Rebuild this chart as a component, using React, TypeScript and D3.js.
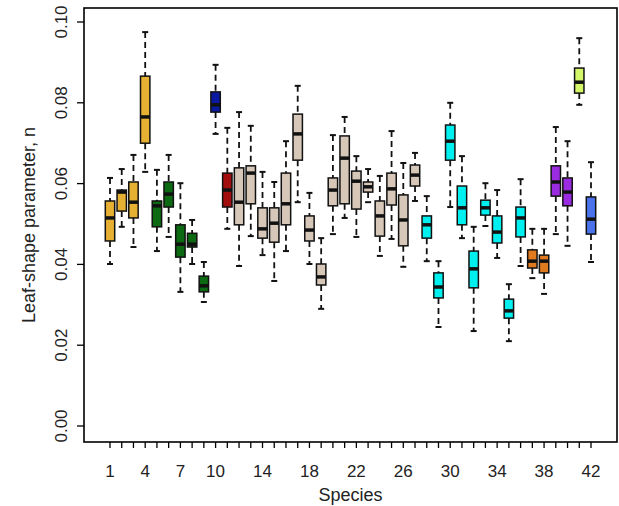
import React from "react";
import * as d3 from "d3";

const species = d3.range(1, 43);
const whiskerHigh = [0.0614,0.0636,0.0671,0.0975,0.0634,0.0671,0.0601,0.0510,0.0406,0.0894,0.0738,0.0777,0.0743,0.0629,0.0604,0.0705,0.0842,0.0577,0.0465,0.0720,0.0765,0.0668,0.0636,0.0619,0.0730,0.0651,0.0676,0.0569,0.0408,0.0800,0.0668,0.0493,0.0601,0.0584,0.0351,0.0611,0.0488,0.0488,0.0740,0.0705,0.0960,0.0653];
const q3 = [0.0557,0.0584,0.0604,0.0866,0.0557,0.0604,0.0498,0.0477,0.0371,0.0827,0.0626,0.0639,0.0644,0.0540,0.0540,0.0626,0.0772,0.0520,0.0401,0.0614,0.0718,0.0631,0.0604,0.0557,0.0626,0.0572,0.0646,0.0520,0.0379,0.0745,0.0594,0.0433,0.0559,0.0520,0.0314,0.0542,0.0436,0.0423,0.0644,0.0614,0.0886,0.0567];
const median = [0.0515,0.0579,0.0554,0.0765,0.0545,0.0574,0.0450,0.0450,0.0347,0.0795,0.0584,0.0554,0.0626,0.0488,0.0502,0.0550,0.0723,0.0485,0.0369,0.0584,0.0663,0.0606,0.0592,0.0520,0.0587,0.0510,0.0621,0.0498,0.0344,0.0705,0.0540,0.0389,0.0540,0.0480,0.0285,0.0515,0.0408,0.0408,0.0604,0.0579,0.0851,0.0512];
const q1 = [0.0458,0.0532,0.0515,0.0700,0.0493,0.0542,0.0418,0.0443,0.0332,0.0777,0.0542,0.0498,0.0550,0.0465,0.0455,0.0498,0.0658,0.0458,0.0349,0.0545,0.0550,0.0537,0.0579,0.0470,0.0547,0.0446,0.0594,0.0465,0.0317,0.0658,0.0498,0.0342,0.0522,0.0453,0.0267,0.0468,0.0391,0.0379,0.0569,0.0545,0.0824,0.0475];
const whiskerLow = [0.0401,0.0493,0.0443,0.0629,0.0433,0.0468,0.0332,0.0401,0.0307,0.0723,0.0488,0.0396,0.0470,0.0423,0.0359,0.0433,0.0554,0.0401,0.0290,0.0475,0.0515,0.0468,0.0554,0.0421,0.0463,0.0394,0.0557,0.0408,0.0245,0.0542,0.0465,0.0235,0.0495,0.0416,0.0210,0.0396,0.0366,0.0327,0.0475,0.0446,0.0795,0.0406];
const GOLD = "#e6b032", GREEN = "#0b6a12", TAN = "#d6c7b8", CYAN = "#00f0f0", ORANGE = "#e07a1e", PURPLE = "#9a2be0";
const colors = [GOLD,GOLD,GOLD,GOLD,GREEN,GREEN,GREEN,GREEN,GREEN,"#0a1aa0","#a20e0e",
  TAN,TAN,TAN,TAN,TAN,TAN,TAN,TAN,TAN,TAN,TAN,TAN,TAN,TAN,TAN,TAN,
  CYAN,CYAN,CYAN,CYAN,CYAN,CYAN,CYAN,CYAN,CYAN,ORANGE,ORANGE,PURPLE,PURPLE,"#d4f76a","#4a72ea"];
const yTicks = [0, 0.02, 0.04, 0.06, 0.08, 0.10];
const xLabels = [1, 4, 7, 10, 14, 18, 22, 26, 30, 34, 38, 42];

export default function App() {
  const W = 619, H = 506;
  const left = 84, right = 617, top = 8, bottom = 442;
  const x = d3.scaleLinear().domain([1, 42]).range([110, 591]);
  const y = d3.scaleLinear().domain([0, 0.1]).range([426, 22]);
  const bw = 9.4;
  const font = "Liberation Sans, Arial, sans-serif";
  return (
    <svg width={W} height={H} style={{ position: "absolute", left: 0, top: 0, background: "#fff" }} fontFamily={font}>
      <rect x={left} y={top} width={right - left} height={bottom - top} fill="none" stroke="#000" strokeWidth={1.6} />
      {yTicks.map(t => (
        <g key={t}>
          <line x1={left - 7} x2={left} y1={y(t)} y2={y(t)} stroke="#000" strokeWidth={1.3} />
          <text transform={`translate(${67},${y(t)}) rotate(-90)`} textAnchor="middle" fontSize={17} fill="#222">{t.toFixed(2)}</text>
        </g>
      ))}
      {species.map(s => (
        <line key={s} x1={x(s)} x2={x(s)} y1={bottom} y2={bottom + 6} stroke="#000" strokeWidth={1.3} />
      ))}
      {xLabels.map(s => (
        <text key={s} x={x(s)} y={477} textAnchor="middle" fontSize={17} fill="#222">{s}</text>
      ))}
      <text x={(left + right) / 2} y={501} textAnchor="middle" fontSize={18} fill="#222">Species</text>
      <text transform={`translate(${35},${(top + bottom) / 2}) rotate(-90)`} textAnchor="middle" fontSize={18} fill="#222">Leaf-shape parameter, n</text>
      {species.map((s, i) => {
        const cx = x(s);
        return (
          <g key={s} stroke="#111">
            <line x1={cx} x2={cx} y1={y(whiskerHigh[i])} y2={y(q3[i])} strokeWidth={1.8} strokeDasharray="6,4" />
            <line x1={cx} x2={cx} y1={y(q1[i])} y2={y(whiskerLow[i])} strokeWidth={1.8} strokeDasharray="6,4" />
            <line x1={cx - 3} x2={cx + 3} y1={y(whiskerHigh[i])} y2={y(whiskerHigh[i])} strokeWidth={2} />
            <line x1={cx - 3} x2={cx + 3} y1={y(whiskerLow[i])} y2={y(whiskerLow[i])} strokeWidth={2} />
            <rect x={cx - bw / 2} y={y(q3[i])} width={bw} height={y(q1[i]) - y(q3[i])} fill={colors[i]} strokeWidth={1.5} />
            <line x1={cx - bw / 2} x2={cx + bw / 2} y1={y(median[i])} y2={y(median[i])} strokeWidth={3.5} />
          </g>
        );
      })}
    </svg>
  );
}
